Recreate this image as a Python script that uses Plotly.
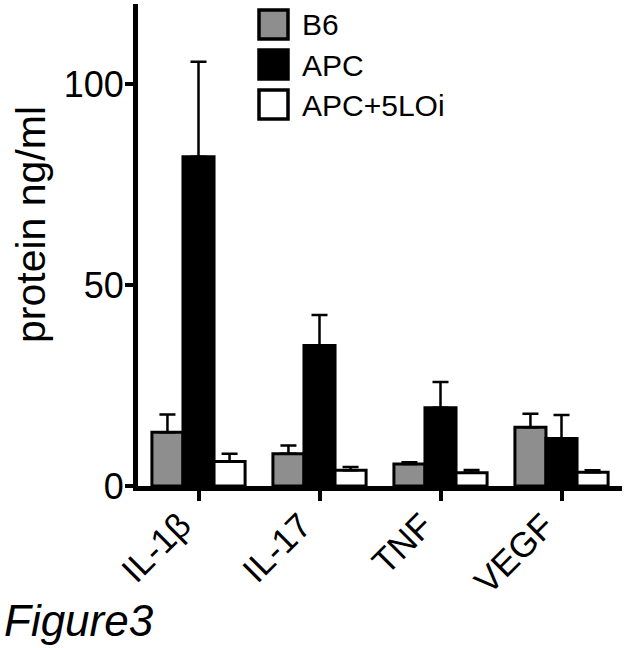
import plotly.graph_objects as go

categories = ["IL-1β", "IL-17", "TNF", "VEGF"]
series_names = ["B6", "APC", "APC+5LOi"]
b6_mean = [13.4, 8.0, 5.5, 14.6]
b6_err = [4.4, 2.1, 0.4, 3.4]
apc_mean = [82.0, 35.0, 19.5, 11.8]
apc_err = [23.6, 7.6, 6.4, 5.9]
lo_mean = [6.1, 3.9, 3.3, 3.4]
lo_err = [1.9, 0.8, 0.7, 0.5]
y_ticks = [0, 50, 100]

colors = ["#8e8e8e", "#000000", "#ffffff"]
means = [b6_mean, apc_mean, lo_mean]
errs = [b6_err, apc_err, lo_err]

FONT = "Liberation Sans, Arial, sans-serif"
L, R, T, B = 138, 3, 4, 162
W, H = 625, 648
PW = W - L - R
PH = H - T - B

def xp(px):
    return (px - L) / PW

def yp(py):
    return (H - B - py) / PH

fig = go.Figure()
for name, m, e, c in zip(series_names, means, errs, colors):
    fig.add_trace(go.Bar(
        x=categories, y=m, name=name,
        marker=dict(color=c, line=dict(color="black", width=3)),
        error_y=dict(type="data", array=e, arrayminus=[0] * len(e), symmetric=False,
                     color="black", thickness=2.5, width=8),
        showlegend=False,
    ))

shapes = []
annotations = []
box_tops = [10, 50, 90]
for name, c, top in zip(series_names, colors, box_tops):
    shapes.append(dict(type="rect", xref="paper", yref="paper",
                       x0=xp(259), x1=xp(288), y0=yp(top), y1=yp(top + 29),
                       fillcolor=c, line=dict(color="black", width=3.5)))
    annotations.append(dict(xref="paper", yref="paper", x=xp(300), y=yp(top + 15),
                            text=name, showarrow=False, xanchor="left", yanchor="middle",
                            font=dict(family=FONT, size=30, color="black")))

# category labels, rotated, anchored at each category on the x scale
for cat in categories:
    annotations.append(dict(xref="x", yref="paper", x=cat, y=yp(503),
                            text=cat, showarrow=False, textangle=-45,
                            xanchor="right", yanchor="top", xshift=2,
                            font=dict(family=FONT, size=35, color="black")))

annotations.append(dict(xref="paper", yref="paper", x=xp(31), y=yp(225),
                        text="protein ng/ml", showarrow=False, textangle=-90,
                        xanchor="center", yanchor="middle",
                        font=dict(family=FONT, size=41, color="black")))
annotations.append(dict(xref="paper", yref="paper", x=xp(2), y=yp(620),
                        text="<i>Figure3</i>", showarrow=False,
                        xanchor="left", yanchor="middle",
                        font=dict(family=FONT, size=44, color="black")))

fig.update_layout(
    width=W, height=H,
    margin=dict(l=L, r=R, t=T, b=B, autoexpand=False),
    paper_bgcolor="white", plot_bgcolor="white",
    barmode="group", bargap=0.23, bargroupgap=0,
    shapes=shapes, annotations=annotations,
    xaxis=dict(
        range=[-0.5, 3.5], showgrid=False, zeroline=False, automargin=False,
        showline=True, linecolor="black", linewidth=5,
        ticks="outside", ticklen=10, tickwidth=4, tickcolor="black",
        showticklabels=False,
    ),
    yaxis=dict(
        range=[0, 120], showgrid=False, zeroline=False, automargin=False,
        showline=True, linecolor="black", linewidth=5,
        ticks="outside", ticklen=8, tickwidth=4, tickcolor="black",
        tickvals=y_ticks, ticktext=[str(v) for v in y_ticks],
        ticklabelstandoff=-6,
        tickfont=dict(family=FONT, size=36, color="black"),
    ),
)

fig.write_html("out.html",
               config={"displayModeBar": False},
               post_script="document.body.style.margin='0';document.body.style.overflow='hidden';")
